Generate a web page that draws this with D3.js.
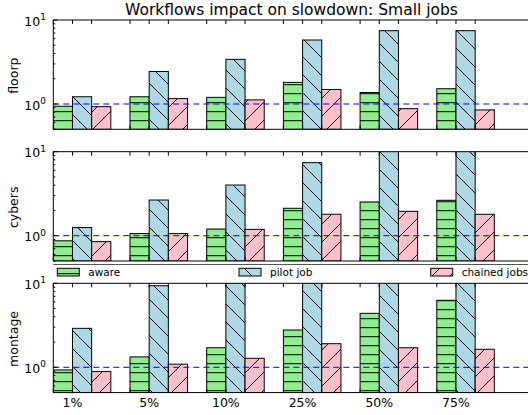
<!DOCTYPE html>
<html>
<head>
<meta charset="utf-8">
<script src="https://cdn.jsdelivr.net/npm/d3@7"></script>
<style>
  html, body { margin: 0; padding: 0; background: #fff; }
  svg { display: block; font-family: "DejaVu Sans", sans-serif; }
</style>
</head>
<body>
<svg id="chart" width="528" height="415"></svg>
<script>
// Arrival rates of workflow jobs (x categories)
const categories = ["1%", "5%", "10%", "25%", "50%", "75%"];
const workloads = ["floorp", "cybers", "montage"];
const seriesNames = ["aware", "pilot job", "chained jobs"];

// Slowdown ratios per workload and strategy
const floorpAware   = [0.94, 1.22, 1.20, 1.81, 1.37, 1.52];
const floorpPilot   = [1.22, 2.44, 3.40, 5.78, 7.46, 7.46];
const floorpChained = [0.93, 1.16, 1.12, 1.49, 0.88, 0.85];

const cybersAware   = [0.87, 1.06, 1.20, 2.12, 2.52, 2.64];
const cybersPilot   = [1.25, 2.66, 4.01, 7.40, 12.0, 13.0];
const cybersChained = [0.85, 1.06, 1.19, 1.80, 1.95, 1.80];

const montageAware   = [0.93, 1.33, 1.71, 2.78, 4.39, 6.28];
const montagePilot   = [2.91, 9.36, 14.0, 16.0, 18.0, 20.0];
const montageChained = [0.89, 1.09, 1.28, 1.91, 1.71, 1.64];

const panelSeries = [
  [floorpAware, floorpPilot, floorpChained],
  [cybersAware, cybersPilot, cybersChained],
  [montageAware, montagePilot, montageChained]
];

const yDomain = [0.5, 10];
const baseline = 1;     // reference slowdown drawn as a dashed line
const barWidth = 0.25;

const svg = d3.select("#chart");
const left = 53.3, right = 529;
const panelTops = [20, 151.7, 283.3];
const panelH = 109.3;

const fills = ["#90ee90", "#add8e6", "#ffc0cb"];
const patternIds = ["hatch-h", "hatch-bs", "hatch-fs"];

// Hatch patterns, anchored in page space so neighbouring bars line up
const defs = svg.append("defs");
function makePattern(id, color, size, pathD, shift) {
  const p = defs.append("pattern")
    .attr("id", id)
    .attr("patternUnits", "userSpaceOnUse")
    .attr("patternTransform", `translate(${shift[0]},${shift[1]})`)
    .attr("width", size).attr("height", size);
  p.append("rect").attr("x", -1).attr("y", -1)
    .attr("width", size + 2).attr("height", size + 2).attr("fill", color);
  p.append("path").attr("d", pathD)
    .attr("stroke", "#000").attr("stroke-width", 1).attr("fill", "none");
}
const hs = 9, ds = 18;
makePattern(patternIds[0], fills[0], hs, `M-1,${hs / 2} L${hs + 1},${hs / 2}`, [0, -0.8]);
makePattern(patternIds[1], fills[1], ds,
  `M-1,-1 L${ds + 1},${ds + 1} M${-ds / 2},${ds / 2} L${ds / 2},${ds * 1.5} M${ds / 2},${-ds / 2} L${ds * 1.5},${ds / 2}`,
  [12, 0]);
makePattern(patternIds[2], fills[2], ds,
  `M-1,${ds + 1} L${ds + 1},-1 M${-ds / 2},${ds / 2} L${ds / 2},${-ds / 2} M${ds / 2},${ds * 1.5} L${ds * 1.5},${ds / 2}`,
  [6, 0]);

const x = d3.scaleLinear().domain([0, (right - left) / 76.7]).range([left, right]);

// Title
svg.append("text")
  .attr("x", 291.5).attr("y", 15)
  .attr("text-anchor", "middle")
  .attr("font-size", 15.5)
  .text("Workflows impact on slowdown: Small jobs");

const xTickVals = [];
categories.forEach((c, i) => { xTickVals.push(i, i + barWidth, i + 2 * barWidth); });

panelSeries.forEach((series, pi) => {
  const top = panelTops[pi];
  const bottom = top + panelH;
  const y = d3.scaleLog().domain(yDomain).range([bottom, top]);
  const g = svg.append("g");

  const clipId = "clip" + pi;
  defs.append("clipPath").attr("id", clipId)
    .append("rect").attr("x", left).attr("y", top)
    .attr("width", right - left).attr("height", panelH);

  const plot = g.append("g").attr("clip-path", `url(#${clipId})`);

  // Bars: one group per category, three strategies side by side
  series.forEach((vals, si) => {
    plot.selectAll(null).data(vals).enter().append("rect")
      .attr("x", (d, i) => x(i + si * barWidth))
      .attr("y", d => y(d))
      .attr("width", x(barWidth) - x(0))
      .attr("height", d => bottom - y(d))
      .attr("fill", `url(#${patternIds[si]})`)
      .attr("stroke", "#000").attr("stroke-width", 1);
  });

  // Reference line at slowdown = 1
  plot.append("line")
    .attr("x1", left).attr("x2", right)
    .attr("y1", y(baseline)).attr("y2", y(baseline))
    .attr("stroke", "#0000ff").attr("stroke-width", 1)
    .attr("stroke-dasharray", "6,4");

  // Spines
  g.append("path")
    .attr("d", `M${right},${top} L${left},${top} L${left},${bottom} L${right},${bottom}`)
    .attr("fill", "none").attr("stroke", "#000").attr("stroke-width", 1);

  // x ticks (inward, bottom and top)
  xTickVals.forEach(v => {
    const xx = x(v);
    g.append("line").attr("x1", xx).attr("x2", xx).attr("y1", bottom).attr("y2", bottom - 4)
      .attr("stroke", "#000");
    g.append("line").attr("x1", xx).attr("x2", xx).attr("y1", top).attr("y2", top + 4)
      .attr("stroke", "#000");
  });

  // y ticks: majors at decades, minors between
  const majors = [1, 10];
  const minors = [0.5, 0.6, 0.7, 0.8, 0.9, 2, 3, 4, 5, 6, 7, 8, 9];
  majors.forEach(v => {
    g.append("line").attr("x1", left).attr("x2", left + 4)
      .attr("y1", y(v)).attr("y2", y(v)).attr("stroke", "#000");
    const t = g.append("text")
      .attr("x", 46).attr("y", y(v) + 5.5)
      .attr("text-anchor", "end").attr("font-size", 12.5);
    t.append("tspan").text("10");
    t.append("tspan").attr("font-size", 9).attr("dy", -5.5).text(Math.round(Math.log10(v)));
  });
  minors.forEach(v => {
    g.append("line").attr("x1", left).attr("x2", left + 2)
      .attr("y1", y(v)).attr("y2", y(v)).attr("stroke", "#000");
  });

  // y axis title
  g.append("text")
    .attr("transform", `translate(18,${(top + bottom) / 2 + 1}) rotate(-90)`)
    .attr("text-anchor", "middle").attr("font-size", 12.5)
    .text(workloads[pi]);

  // category labels below the last panel
  if (pi === panelSeries.length - 1) {
    categories.forEach((c, i) => {
      g.append("text")
        .attr("x", x(i + barWidth)).attr("y", 407)
        .attr("text-anchor", "middle").attr("font-size", 12.5)
        .text(c);
    });
  }
});

// Legend between the second and third panels
const legend = svg.append("g");
legend.append("line").attr("x1", left).attr("x2", right)
  .attr("y1", 264.5).attr("y2", 264.5).attr("stroke", "#555").attr("stroke-width", 1);
const legendX = [57.3, 239, 430.7];
seriesNames.forEach((name, si) => {
  legend.append("rect")
    .attr("x", legendX[si]).attr("y", 268.3)
    .attr("width", 22).attr("height", 7.7)
    .attr("fill", `url(#${patternIds[si]})`)
    .attr("stroke", "#000").attr("stroke-width", 1);
  legend.append("text")
    .attr("x", legendX[si] + 31).attr("y", 275.7)
    .attr("font-size", 10.5)
    .text(name);
});
</script>
</body>
</html>
